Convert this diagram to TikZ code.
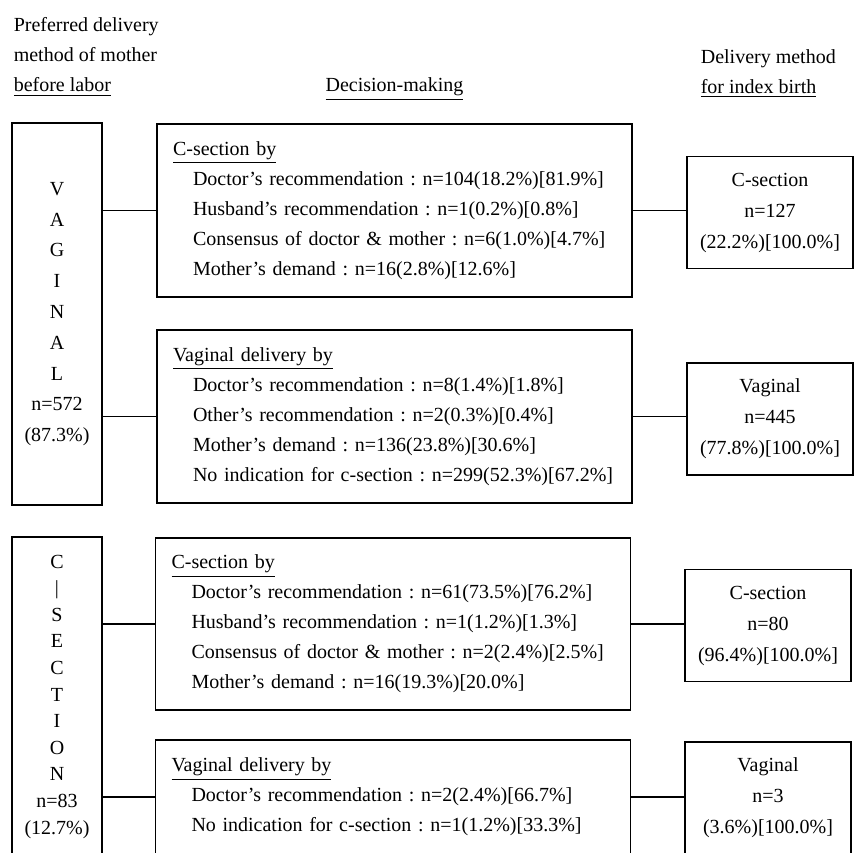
\documentclass[tikz,border=0pt]{standalone}
\usepackage{fontspec}
\setmainfont{Liberation Serif}
\usetikzlibrary{positioning}

\newcommand{\ind}{\hspace*{10pt}}

\begin{document}
\begin{tikzpicture}[x=0.5pt,y=-0.5pt,line width=0.8pt,
hdr/.style={font=\fontsize{10}{15}\selectfont,align=left,inner sep=0pt},
pref/.style={draw,font=\fontsize{10}{15.4}\selectfont,align=center,minimum width=45pt,text width=40pt,inner sep=0pt},
mid/.style={draw,font=\fontsize{10}{15}\selectfont\frenchspacing,align=left,text width=221.5pt,inner xsep=8pt,inner ysep=0pt},
res/.style={draw,font=\fontsize{10}{15.5}\selectfont,align=center,minimum width=83pt,minimum height=56pt,inner sep=0pt}
]
\useasboundingbox (0,0) rectangle (855,852);
\clip (0,0) rectangle (855,852);

% headings
\node[hdr,anchor=west] (hpref) at (13,57) {Preferred delivery\\method of mother\\\underline{before labor}};
\node[hdr] (hdec) at (394.5,89) {\underline{Decision-making}};
\node[hdr,anchor=west] (hbirth) at (700,74) {Delivery method\\\underline{for index birth}};

% preferred method
\node[pref,minimum height=191pt] (vag) at (57,314) {V\\A\\G\\I\\N\\A\\L\\n=572\\(87.3\%)};
\node[pref,minimum height=159.5pt,font=\fontsize{10}{13.3}\selectfont] (csec) at (57,696.5) {C\\|\\S\\E\\C\\T\\I\\O\\N\\n=83\\(12.7\%)};

% decision-making
\node[mid,minimum height=86.5pt] (cs1) at (394.5,210.5) {\underline{C-section by}\\
\ind Doctor's recommendation : n=104(18.2\%)[81.9\%]\\
\ind Husband's recommendation : n=1(0.2\%)[0.8\%]\\
\ind Consensus of doctor \& mother : n=6(1.0\%)[4.7\%]\\
\ind Mother's demand : n=16(2.8\%)[12.6\%]};
\node[mid,minimum height=86.5pt] (vd1) at (394.5,416.5) {\underline{Vaginal delivery by}\\
\ind Doctor's recommendation : n=8(1.4\%)[1.8\%]\\
\ind Other's recommendation : n=2(0.3\%)[0.4\%]\\
\ind Mother's demand : n=136(23.8\%)[30.6\%]\\
\ind No indication for c-section : n=299(52.3\%)[67.2\%]};
\node[mid,minimum height=86pt] (cs2) at (393,624) {\underline{C-section by}\\
\ind Doctor's recommendation : n=61(73.5\%)[76.2\%]\\
\ind Husband's recommendation : n=1(1.2\%)[1.3\%]\\
\ind Consensus of doctor \& mother : n=2(2.4\%)[2.5\%]\\
\ind Mother's demand : n=16(19.3\%)[20.0\%]};
\node[mid,minimum height=57pt] (vd2) at (393,797) {\underline{Vaginal delivery by}\\
\ind Doctor's recommendation : n=2(2.4\%)[66.7\%]\\
\ind No indication for c-section : n=1(1.2\%)[33.3\%]};

% delivery for index birth
\node[res] (rc1) at (770,212.5) {C-section\\n=127\\(22.2\%)[100.0\%]};
\node[res] (rv1) at (770,419) {Vaginal\\n=445\\(77.8\%)[100.0\%]};
\node[res] (rc2) at (768,625.5) {C-section\\n=80\\(96.4\%)[100.0\%]};
\node[res] (rv2) at (768,798) {Vaginal\\n=3\\(3.6\%)[100.0\%]};

\draw (vag.east |- cs1.west) -- (cs1.west);
\draw (vag.east |- vd1.west) -- (vd1.west);
\draw (csec.east |- cs2.west) -- (cs2.west);
\draw (csec.east |- vd2.west) -- (vd2.west);
\draw (cs1.east) -- (cs1.east -| rc1.west);
\draw (vd1.east) -- (vd1.east -| rv1.west);
\draw (cs2.east) -- (cs2.east -| rc2.west);
\draw (vd2.east) -- (vd2.east -| rv2.west);
\end{tikzpicture}
\end{document}
